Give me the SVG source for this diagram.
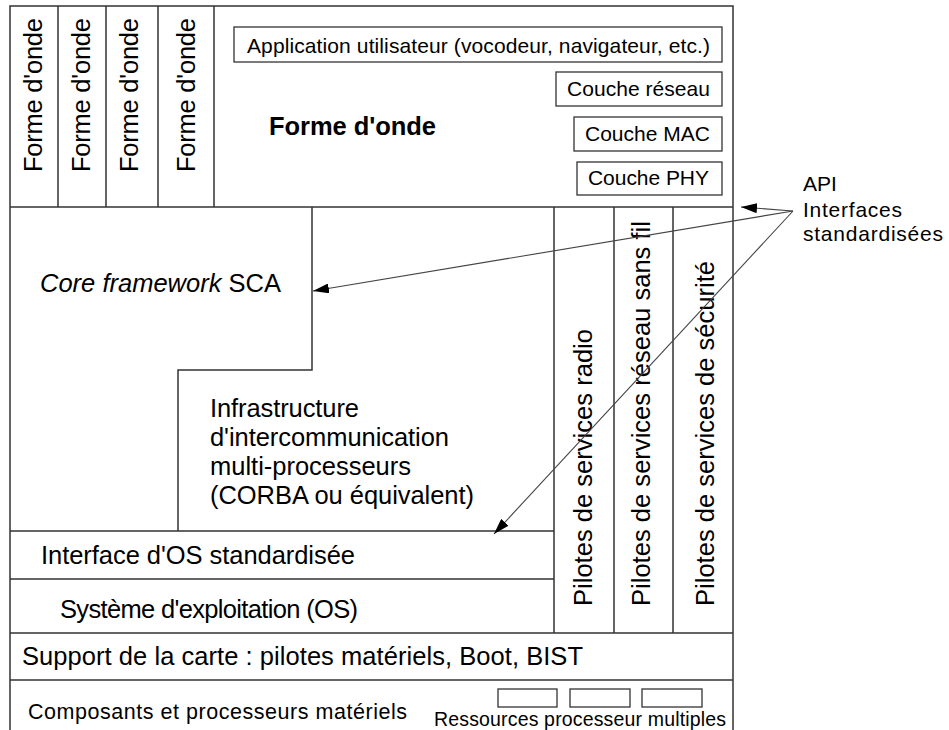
<svg xmlns="http://www.w3.org/2000/svg" width="949" height="730" viewBox="0 0 949 730">
<style>
text{font-family:"Liberation Sans",Arial,sans-serif;fill:#000}
.b{font-size:25.5px}
.s{font-size:21px}
.ln{stroke:#333;stroke-width:1.5;fill:none}
.bx{stroke:#333;stroke-width:1.3;fill:#fff}
.ar{stroke:#444;stroke-width:1.1;fill:none}
</style>
<defs>
<marker id="ah" viewBox="0 0 16 10" refX="16" refY="5" markerWidth="16" markerHeight="10" markerUnits="userSpaceOnUse" orient="auto">
<path d="M0,0 L16,5 L0,10 Z" fill="#000"/>
</marker>
</defs>
<rect width="949" height="730" fill="#fff"/>
<g id="frame">
<path class="ln" d="M10,730 V6 H733 V730"/>
<path class="ln" d="M10,207 H733"/>
<path class="ln" d="M58,6 V207 M106,6 V207 M158,6 V207 M214,6 V207"/>
<path class="ln" d="M312,207 V370 H178 V531"/>
<path class="ln" d="M10,531 H554 M10,579 H554 M10,633 H733 M10,680 H733"/>
<path class="ln" d="M554,207 V633 M614,207 V633 M673,207 V633"/>
</g>
<g id="waveforms">
<text class="b" transform="translate(42,172) rotate(-90)" textLength="154">Forme d'onde</text>
<text class="b" transform="translate(90,172) rotate(-90)" textLength="154">Forme d'onde</text>
<text class="b" transform="translate(138,172) rotate(-90)" textLength="154">Forme d'onde</text>
<text class="b" transform="translate(195,172) rotate(-90)" textLength="154">Forme d'onde</text>
</g>
<g id="waveform-main">
<text class="b" x="269" y="135" font-weight="bold" textLength="167">Forme d'onde</text>
</g>
<g id="app">
<rect class="bx" x="234" y="27" width="488" height="35"/>
<text class="s" x="247" y="53" textLength="463">Application utilisateur (vocodeur, navigateur, etc.)</text>
</g>
<g id="reseau">
<rect class="bx" x="556" y="72" width="166" height="34"/>
<text class="s" x="567" y="96" textLength="143">Couche réseau</text>
</g>
<g id="mac">
<rect class="bx" x="574" y="117" width="148" height="34"/>
<text class="s" x="585" y="141" textLength="125">Couche MAC</text>
</g>
<g id="phy">
<rect class="bx" x="577" y="162" width="145" height="33"/>
<text class="s" x="588" y="185" textLength="121">Couche PHY</text>
</g>
<g id="core">
<text class="b" x="40" y="292" textLength="241"><tspan font-style="italic">Core framework</tspan> SCA</text>
</g>
<g id="infra">
<text class="b" x="210" y="417" textLength="149">Infrastructure</text>
<text class="b" x="210" y="446" textLength="239">d'intercommunication</text>
<text class="b" x="210" y="475" textLength="201">multi-processeurs</text>
<text class="b" x="210" y="504" textLength="264">(CORBA ou équivalent)</text>
</g>
<g id="os-interface">
<text class="b" x="41" y="564" textLength="314">Interface d'OS standardisée</text>
</g>
<g id="os">
<text class="b" x="60" y="618" textLength="298">Système d'exploitation (OS)</text>
</g>
<g id="board">
<text class="b" x="22" y="665" textLength="561">Support de la carte : pilotes matériels, Boot, BIST</text>
</g>
<g id="hardware">
<text x="28" y="719" font-size="21.5" textLength="379">Composants et processeurs matériels</text>
<rect class="bx" x="498" y="689" width="59" height="18"/>
<rect class="bx" x="570" y="689" width="60" height="18"/>
<rect class="bx" x="642" y="689" width="60" height="18"/>
<text x="434" y="726" font-size="19.5" textLength="292">Ressources processeur multiples</text>
</g>
<g id="drivers">
<text class="b" transform="translate(592,606) rotate(-90)" textLength="277">Pilotes de services radio</text>
<text class="b" transform="translate(650,606) rotate(-90)" textLength="385">Pilotes de services réseau sans fil</text>
<text class="b" transform="translate(714,606) rotate(-90)" textLength="345">Pilotes de services de sécurité</text>
</g>
<g id="api">
<text x="803" y="191" font-size="21">API</text>
<text x="803" y="217" font-size="21" textLength="99">Interfaces</text>
<text x="803" y="241" font-size="21" textLength="140">standardisées</text>
</g>
<g id="connectors">
<line class="ar" x1="793" y1="211" x2="741" y2="207" marker-end="url(#ah)"/>
<line class="ar" x1="793" y1="211" x2="313" y2="291" marker-end="url(#ah)"/>
<line class="ar" x1="793" y1="211" x2="494" y2="534" marker-end="url(#ah)"/>
</g>
</svg>
